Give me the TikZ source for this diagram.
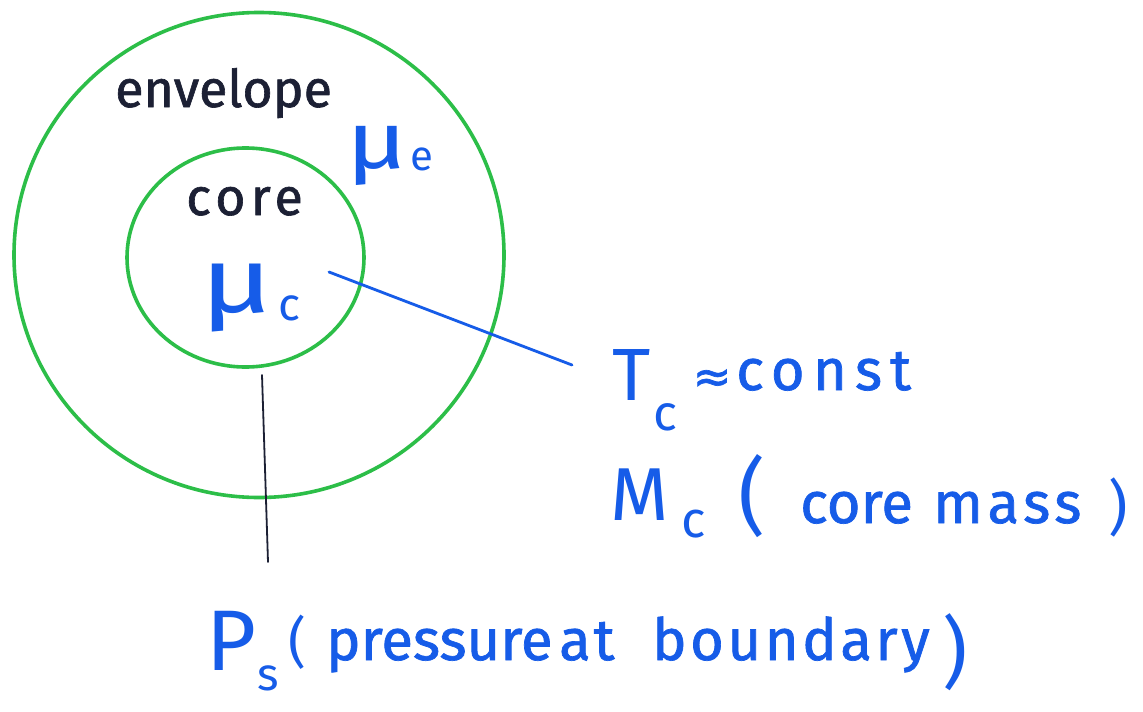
\documentclass[tikz,border=0pt]{standalone}
\usepackage{fontspec}
\setmainfont{Fira Sans}
\newfontfamily\symf{DejaVu Sans}[FakeBold=1.5]
\usetikzlibrary{shapes.geometric}
\definecolor{pen}{RGB}{22,92,232}
\definecolor{ring}{RGB}{44,190,72}
\definecolor{ink}{RGB}{28,32,52}
\newcommand\fs[1]{\fontsize{#1}{#1}\selectfont}
\newcommand\ls[1]{\addfontfeature{LetterSpace=#1}}
\tikzset{
  ringline/.style={draw=ring, line width=3.6pt, ellipse, inner sep=0pt},
  blacklabel/.style={text=ink, font=\fs{52}\addfontfeature{FakeBold=1.2}, inner sep=0pt, anchor=base west},
  bluebit/.style={text=pen, font=\fs{58}\addfontfeature{FakeBold=1.2}, inner sep=0pt, anchor=base west},
  pointer/.style={draw=pen, line width=2.8pt, line cap=round},
  tick/.style={draw=ink, line width=1.8pt, line cap=round}
}
\begin{document}
\begin{tikzpicture}[x=1pt,y=-1pt]
\useasboundingbox[fill=white] (0,0) rectangle (1143,712);
% rings
\node[ringline, minimum width=490pt, minimum height=485pt] (outer) at (259,255) {};
\node[ringline, minimum width=237pt, minimum height=219pt] (inner) at (245.5,257.5) {};
% black labels
\node[blacklabel] (env) at (115,107) {envelope};
\node[blacklabel] (core) at (186,215) {\ls{10}core};
% mu labels
\node[bluebit, font=\fs{80}] (mue) at (346,168) {\scalebox{1.3}[1]{μ}};
\node[bluebit, font=\fs{42}] (mues) at (410,170) {e};
\node[bluebit, font=\fs{92}] (muc) at (200,312) {\scalebox{1.35}[1]{μ}};
\node[bluebit, font=\fs{46}] (mucs) at (278,320) {c};
% T_c line
\node[bluebit, font=\fs{74}] (tc) at (612,400) {T};
\node[bluebit, font=\fs{50}] (tcs) at (653,430) {c};
\node[text=pen, font=\symf\fs{46}, inner sep=0pt] (approx) at (712,381) {≈};
\node[bluebit] (const) at (736,390) {\ls{14}const};
% M_c line
\node[bluebit, font=\fs{75}] (mc) at (610,520) {M};
\node[bluebit, font=\fs{51}] (mcs) at (681,537) {c};
\node[bluebit, font=\fs{84}] (lp1) at (738,525) {(};
\node[bluebit] (core2) at (800,523) {core};
\node[bluebit] (mass) at (933,523) {\ls{8}mass};
\node[bluebit, font=\fs{60}] (rp1) at (1108,528) {)};
% P_s line
\node[bluebit, font=\fs{86}] (ps) at (206,670) {P};
\node[bluebit, font=\fs{46}] (pss) at (257,690) {s};
\node[bluebit, font=\fs{55}] (lp2) at (288,661) {(};
\node[bluebit] (pressure) at (326,660) {pressure};
\node[bluebit] (at) at (559,660) {\ls{5}at};
\node[bluebit] (boundary) at (652,660) {\ls{6}boundary};
\node[bluebit, font=\fs{78}] (rp2) at (942,679) {)};
% connectors
\coordinate (lstart) at (329,272);
\coordinate (lend) at (572,365);
\draw[pointer] (lstart) -- (lend);
\coordinate (tstart) at (262,375);
\coordinate (tend) at (268,562);
\draw[tick] (tstart) -- (tend);
\end{tikzpicture}
\end{document}
